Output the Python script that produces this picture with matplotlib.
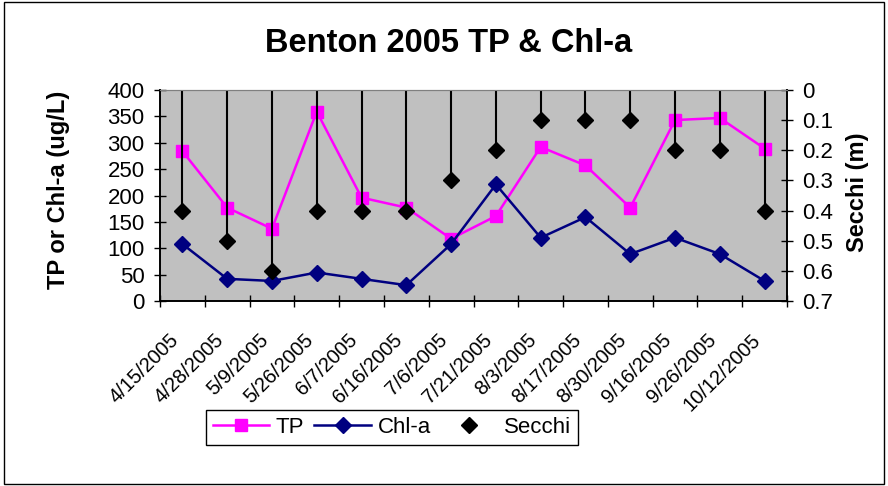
import matplotlib
matplotlib.use("Agg")
from matplotlib import pyplot as plt
from matplotlib.lines import Line2D
from matplotlib.patches import Rectangle
import numpy as np

plt.rcParams['font.family'] = ['Liberation Sans', 'DejaVu Sans']

dates = ["4/15/2005", "4/28/2005", "5/9/2005", "5/26/2005", "6/7/2005",
         "6/16/2005", "7/6/2005", "7/21/2005", "8/3/2005", "8/17/2005",
         "8/30/2005", "9/16/2005", "9/26/2005", "10/12/2005"]
tp = [284, 177, 137, 359, 196, 177, 118, 161, 292, 257, 177, 343, 347, 289]
chla = [108, 42, 38, 54, 42, 30, 108, 221, 120, 159, 89, 120, 89, 38]
secchi = [0.4, 0.5, 0.6, 0.4, 0.4, 0.4, 0.3, 0.2, 0.1, 0.1, 0.1, 0.2, 0.2, 0.4]

x = np.arange(1, len(dates) + 1)

fig = plt.figure(figsize=(8.88, 4.86), dpi=100)
ax = fig.add_axes([160/888, 1 - 301/486, 627/888, 211/486])
ax.set_facecolor('#C0C0C0')

ax.plot(x, tp, color='#FF00FF', lw=1.8, marker='s', ms=9, zorder=3)
ax.plot(x, chla, color='#000080', lw=1.8, marker='D', ms=8, zorder=3)
ax.set_ylim(0, 400)
ax.set_yticks(np.arange(0, 401, 50))
ax.set_xlim(0.5, len(dates) + 0.5)

# category boundaries get the tick marks, centers get the labels
ax.set_xticks(np.arange(0.5, len(dates) + 1, 1))
ax.set_xticklabels([])
ax.set_xticks(x, minor=True)
ax.set_xticklabels(dates, minor=True, rotation=45, ha='right', va='top',
                   fontsize=14.5)
ax.tick_params(axis='x', which='minor', length=0, pad=21)
ax.tick_params(axis='x', which='major', direction='inout', length=8, width=1)
ax.tick_params(axis='y', direction='inout', length=8, width=1, labelsize=16, pad=7)

ax2 = ax.twinx()
ax2.vlines(x, 0, secchi, color='black', lw=1.5, zorder=2)
ax2.plot(x, secchi, ls='none', marker='D', ms=8, color='black', zorder=4)
ax2.set_ylim(0.7, 0)
ax2.set_yticks(np.arange(0, 0.71, 0.1))
ax2.set_yticklabels(["0", "0.1", "0.2", "0.3", "0.4", "0.5", "0.6", "0.7"])
ax2.tick_params(axis='y', direction='inout', length=8, width=1, labelsize=16, pad=7)

for a in (ax, ax2):
    a.spines['top'].set_color('#808080')
    for s in ('left', 'right', 'bottom'):
        a.spines[s].set_linewidth(1.2)

fig.text(0.505, 0.91, "Benton 2005 TP & Chl-a", ha='center', va='center',
         fontsize=23.5, fontweight='bold')
fig.text(0.066, 0.61, "TP or Chl-a (ug/L)", rotation=90, ha='center',
         va='center', fontsize=17, fontweight='bold')
fig.text(0.966, 0.605, "Secchi (m)", rotation=90, ha='center',
         va='center', fontsize=17, fontweight='bold')

handles = [
    Line2D([], [], color='#FF00FF', lw=1.8, marker='s', ms=9),
    Line2D([], [], color='#000080', lw=1.8, marker='D', ms=8),
    Line2D([], [], color='black', ls='none', marker='D', ms=8),
]
fig.legend(handles, ["TP", "Chl-a", "Secchi"], loc='center',
           bbox_to_anchor=(0.4414, 0.1204), ncol=3, fontsize=16,
           frameon=True, fancybox=False, edgecolor='black',
           handlelength=2.55, columnspacing=0.45, handletextpad=0.3,
           borderpad=0.3, borderaxespad=0, framealpha=1)

fig.patches.append(Rectangle((0.004, 0.004), 0.992, 0.992, transform=fig.transFigure,
                             fill=False, edgecolor='black', lw=1))

fig.savefig("out.png", dpi=100)
